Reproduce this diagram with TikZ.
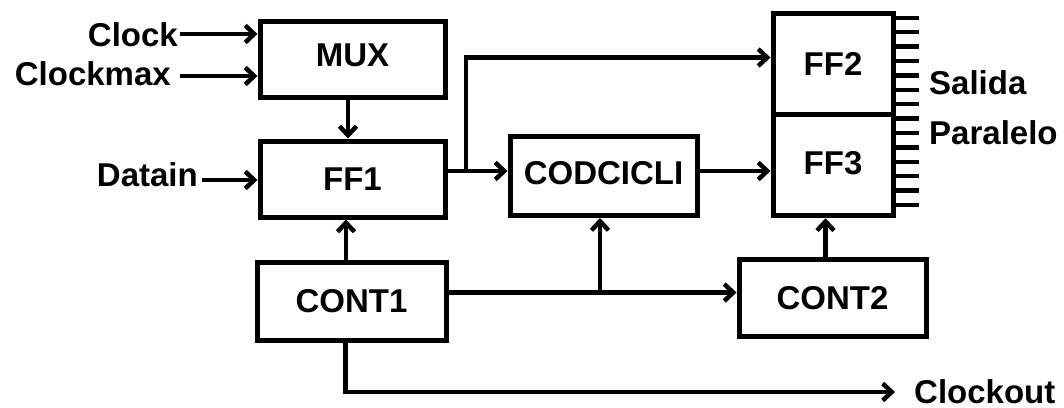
\documentclass[tikz,border=0pt]{standalone}
\usepackage{fontspec}
\setmainfont{Liberation Sans}
\usetikzlibrary{arrows.meta}
\newcommand{\upby}[2]{\raisebox{#1}[\height][\depth]{#2}}
\begin{document}
\begin{tikzpicture}[x=1pt,y=-1pt,
  >={Straight Barb[length=9pt,width=17pt]},
  box/.style={draw,line width=5pt,inner sep=0pt,font=\fontsize{33}{40}\bfseries\selectfont},
  lbl/.style={inner sep=0pt,font=\fontsize{33}{40}\bfseries\selectfont},
  wire/.style={line width=4.5pt},
  tickl/.style={line width=4.5pt}]
\useasboundingbox[fill=white] (0,0) rectangle (1064,407);
% boxes
\node[box,minimum width=185pt,minimum height=76pt] (MUX) at (352.5,59) {\upby{4pt}{MUX}};
\node[box,minimum width=185pt,minimum height=76pt] (FF1) at (352.5,179) {FF1};
\node[box,minimum width=189pt,minimum height=78pt] (CONT1) at (351.5,301) {CONT1};
\node[box,minimum width=187pt,minimum height=79pt] (COD) at (603.5,176) {\upby{3pt}{CODCICLI}};
\node[box,minimum width=120pt,minimum height=100.5pt] (FF2) at (833,64) {FF2};
\node[box,minimum width=120pt,minimum height=101.5pt] (FF3) at (833,165) {\upby{2pt}{FF3}};
\node[box,minimum width=187pt,minimum height=77pt] (CONT2) at (832.5,298) {CONT2};
% labels
\node[lbl,anchor=east] (Clock) at (178,35) {Clock};
\node[lbl,anchor=east] (Clockmax) at (171,74) {Clockmax};
\node[lbl,anchor=east] (Datain) at (198,175) {Datain};
\node[lbl,anchor=west] (Salida) at (929,83) {Salida};
\node[lbl,anchor=west] (Paralelo) at (929,133) {Paralelo};
\node[lbl,anchor=west] (Clockout) at (914,392) {Clockout};
% inputs
\draw[wire,->] ([xshift=2pt,yshift=1pt]Clock.east) -- ([yshift=1pt]Clock.east -| MUX.west);
\draw[wire,->] ([xshift=9pt,yshift=-2pt]Clockmax.east) -- ([yshift=-2pt]Clockmax.east -| MUX.west);
\draw[wire,->] ([xshift=4pt,yshift=-5pt]Datain.east) -- ([yshift=-5pt]Datain.east -| FF1.west);
% vertical links
\draw[wire,->] ([xshift=-4.5pt]MUX.south) -- ([xshift=-4.5pt]MUX.south |- FF1.north);
\draw[wire,->] ([xshift=-5.5pt]CONT1.north) -- ([xshift=-5.5pt]CONT1.north |- FF1.south);
\draw[wire,->] ([xshift=-7pt]CONT2.north) -- ([xshift=-7pt]CONT2.north |- FF3.south);
% FF1 to CODCICLI and FF2
\coordinate (br) at (466,171);
\draw[wire,->] ([yshift=8pt]FF1.east) -- ([yshift=8pt]FF1.east -| COD.west);
\draw[wire,->] (br) |- ([yshift=6.5pt]FF2.west);
\draw[wire,->] ([yshift=5pt]COD.east) -- ([yshift=5pt]COD.east -| FF3.west);
% CONT1 to CONT2 and CODCICLI
\coordinate (jn) at (600,292.5);
\draw[wire,->] ([yshift=8.5pt]CONT1.east) -- ([yshift=8.5pt]CONT1.east -| CONT2.west);
\draw[wire,->] (jn) -- (jn |- COD.south);
% Clockout
\draw[wire,->] ([xshift=-6pt]CONT1.south) |- ([xshift=-19pt]Clockout.west);
% parallel output ticks
\foreach \i in {0,...,13}
  \draw[tickl] ([yshift={-(6.5+14.4*\i)*1pt}]FF2.north east) -- ++(23,0);
\end{tikzpicture}
\end{document}
